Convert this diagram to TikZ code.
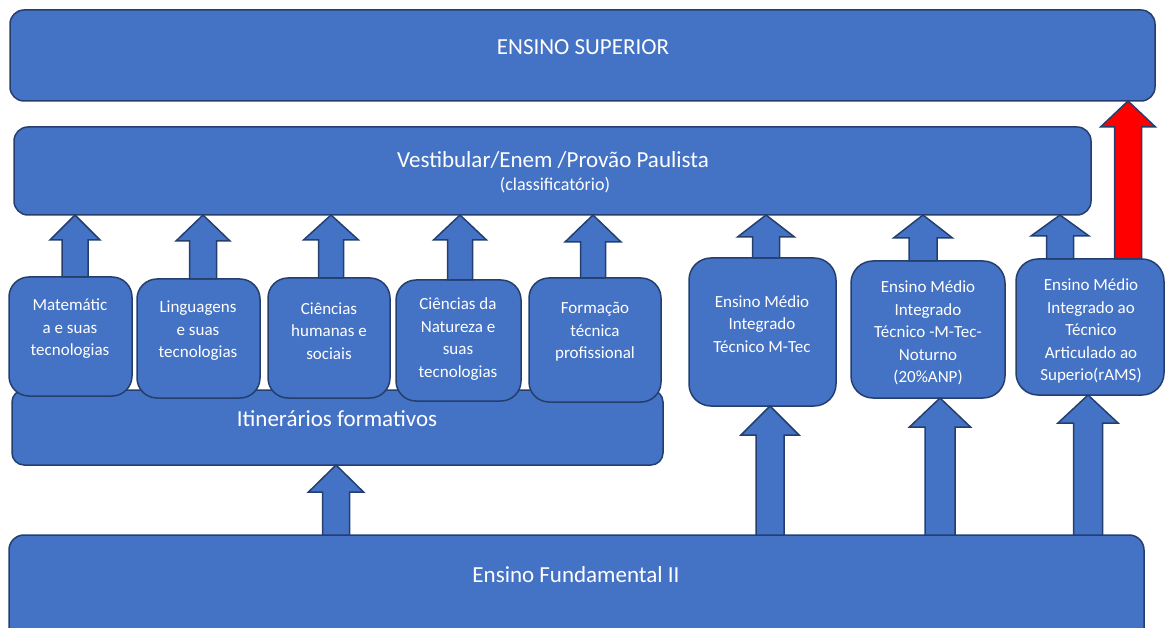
\documentclass[tikz,border=0pt]{standalone}
\usepackage{fontspec}
\setmainfont{Carlito}
\usetikzlibrary{calc}
\definecolor{boxfill}{HTML}{4472C4}
\definecolor{boxline}{HTML}{243F6E}
\definecolor{arrred}{HTML}{FF0000}
\tikzset{
  panel/.style={draw=boxline, fill=boxfill, line width=1.5pt, rounded corners=#1,
    inner sep=0pt, outer sep=0pt},
  panel/.default=14pt,
  lbl/.style={text=white, inner sep=0pt, align=center},
  bigtxt/.style={lbl, font=\fontsize{23}{27.6}\selectfont},
  boxtxt/.style={lbl, font=\fontsize{17}{22.5}\selectfont},
  bluearrow/.style={draw=boxline, fill=boxfill, line width=1.5pt, line join=miter},
  redarrow/.style={draw=boxline, fill=arrred, line width=1.5pt, line join=miter}
}
% block arrow: [style] {x-ref} {bottom ref} {tip ref} {shaft half} {head half} {head length}
\newcommand\blockup[7][bluearrow]{%
  \draw[#1] let \p1=#2, \p2=#3, \p3=#4 in
    (\x1-#5pt,\y2) -- (\x1-#5pt,\y3-#7pt) -- (\x1-#6pt,\y3-#7pt) -- (\x1,\y3)
    -- (\x1+#6pt,\y3-#7pt) -- (\x1+#5pt,\y3-#7pt) -- (\x1+#5pt,\y2) -- cycle;}
\begin{document}
\begin{tikzpicture}[x=1pt,y=-1pt]
\useasboundingbox (0,0) rectangle (1165,628);
\clip (0,0) rectangle (1165,628);

% large panels
\node[panel=14pt, minimum width=1145pt, minimum height=91pt] (sup) at (582.5,55.5) {};
\node[panel=14pt, minimum width=1077pt, minimum height=88pt] (vest) at (552.5,171) {};
\node[panel=12pt, minimum width=651pt, minimum height=75pt] (itin) at (337.5,427.5) {};
\node[panel=15pt, minimum width=1135pt, minimum height=165pt] (fund) at (576.5,617.5) {};

% small boxes
\node[panel=20pt, minimum width=123pt, minimum height=119pt] (m1) at (70.5,336.5) {};
\node[panel=20pt, minimum width=123pt, minimum height=119pt] (m2) at (198.5,338.5) {};
\node[panel=20pt, minimum width=122pt, minimum height=120pt] (m3) at (329,338) {};
\node[panel=20pt, minimum width=125pt, minimum height=121pt] (m4) at (458.5,340.5) {};
\node[panel=20pt, minimum width=132pt, minimum height=124pt] (m5) at (595,340) {};
\node[panel=22pt, minimum width=147pt, minimum height=148pt] (r6) at (762.5,332) {};
\node[panel=22pt, minimum width=154pt, minimum height=137pt] (r7) at (928,329.5) {};
\node[panel=22pt, minimum width=148pt, minimum height=136pt] (r8) at (1090,327) {};

% texts
\node[bigtxt, anchor=base] (supT) at (583,55) {ENSINO SUPERIOR};
\node[bigtxt, anchor=base] (vestT) at (553,168) {Vestibular/Enem /Provão Paulista};
\node[lbl, font=\fontsize{18}{21}\selectfont, anchor=base] (vestT2) at (555,191) {(classificatório)};
\node[bigtxt, anchor=base] (itinT) at (337,426.5) {Itinerários formativos};
\node[bigtxt, anchor=base] (fundT) at (576,582) {Ensino Fundamental II};

\node[boxtxt] (m1T) at (70,329) {Matemátic\\a e suas\\tecnologias};
\node[boxtxt] (m2T) at (198,331) {Linguagens\\e suas\\tecnologias};
\node[boxtxt] (m3T) at (329,331) {Ciências\\humanas e\\sociais};
\node[boxtxt] (m4T) at (458,339) {Ciências da\\Natureza e\\suas\\tecnologias};
\node[boxtxt] (m5T) at (595,332) {Formação\\técnica\\profissional};
\node[boxtxt] (r6T) at (762,324) {Ensino Médio\\Integrado\\Técnico M-Tec};
\node[boxtxt] (r7T) at (928,333) {Ensino Médio\\Integrado\\Técnico -M-Tec-\\Noturno\\(20\%ANP)};
\node[boxtxt] (r8T) at (1091,331) {Ensino Médio\\Integrado ao\\Técnico\\Articulado ao\\Superio(rAMS)};

% arrows to Vestibular
\blockup{($(m1.north)+(4.5,0)$)}{(m1.north)}{(vest.south)}{13}{25}{25}
\blockup{($(m2.north)+(4.5,0)$)}{(m2.north)}{(vest.south)}{13.5}{27}{26}
\blockup{($(m3.north)+(2,0)$)}{(m3.north)}{(vest.south)}{12.5}{27.5}{25}
\blockup{($(m4.north)+(1.5,0)$)}{(m4.north)}{(vest.south)}{12.5}{26.5}{25}
\blockup{($(m5.north)+(-2,0)$)}{(m5.north)}{(vest.south)}{12.5}{28}{27}
\blockup{($(r6.north)+(3.5,0)$)}{(r6.north)}{(vest.south)}{13.5}{28.5}{22}
\blockup{($(r7.north)+(-5,0)$)}{(r7.north)}{(vest.south)}{14}{29.5}{23}
\blockup{($(r8.north)+(-30,0)$)}{(r8.north)}{(vest.south)}{13.5}{29}{21}
% red arrow to Ensino Superior
\blockup[redarrow]{($(r8.north)+(38,0)$)}{(r8.north)}{(sup.south)}{13.5}{27.5}{26}
% arrows from Ensino Fundamental II
\blockup{($(r6.south)+(7.5,0)$)}{(fund.north)}{(r6.south)}{14}{29}{29}
\blockup{($(r7.south)+(12,0)$)}{(fund.north)}{(r7.south)}{15}{30.5}{29}
\blockup{($(r8.south)+(-2,0)$)}{(fund.north)}{(r8.south)}{14.5}{30}{28}
\blockup{($(itin.south)+(-1.5,0)$)}{(fund.north)}{(itin.south)}{13.5}{27.5}{27}
\end{tikzpicture}
\end{document}
